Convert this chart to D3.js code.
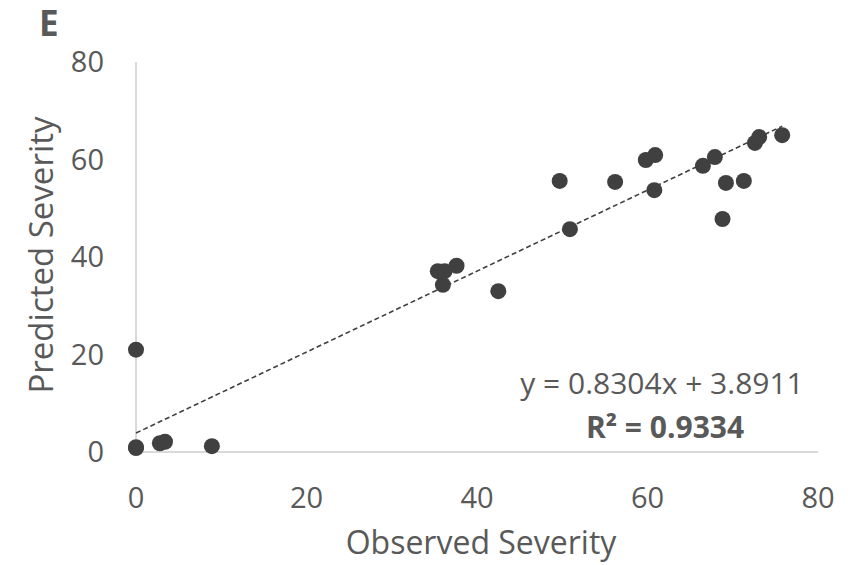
<!DOCTYPE html>
<html>
<head>
<meta charset="utf-8">
<script src="https://cdn.jsdelivr.net/npm/d3@7"></script>
<style>
body{margin:0;background:#fff;}
text{font-family:"Open Sans","Liberation Sans",sans-serif;fill:#595959;}
</style>
</head>
<body>
<div id="chart"></div>
<script>
// observed vs predicted severity
var observed  = [0, 0, 0, 2.8, 3.4, 8.9, 35.4, 36.0, 36.2, 37.6, 42.5, 49.7, 50.9, 56.2, 59.8, 60.9, 60.8, 66.5, 67.9, 68.8, 69.2, 71.3, 72.6, 73.1, 75.8];
var predicted = [21.0, 1.0, 0.8, 1.8, 2.1, 1.2, 37.1, 34.3, 37.1, 38.2, 33.0, 55.6, 45.7, 55.4, 59.9, 60.9, 53.7, 58.7, 60.5, 47.8, 55.2, 55.6, 63.4, 64.6, 65.0];
var ticks = [0, 20, 40, 60, 80];
var slope = 0.8304, intercept = 3.8911;
var eqLabel = "y = 0.8304x + 3.8911";
var r2Label = "R² = 0.9334";

var width = 868, height = 565;

var svg = d3.select("#chart").append("svg")
	.attr("width", width)
	.attr("height", height);

var x = d3.scaleLinear().domain([0, 80]).range([136, 818]);
var y = d3.scaleLinear().domain([0, 80]).range([452, 62]);

// axis lines (no ticks)
svg.append("line")
	.attr("x1", x(0)).attr("y1", y(0))
	.attr("x2", x(80)).attr("y2", y(0))
	.style("stroke", "#d9d9d9").style("stroke-width", "2px");
svg.append("line")
	.attr("x1", x(0)).attr("y1", y(0))
	.attr("x2", x(0)).attr("y2", y(80))
	.style("stroke", "#d9d9d9").style("stroke-width", "2px");

svg.selectAll(".xtick")
	.data(ticks).enter().append("text")
	.attr("class", "xtick")
	.attr("x", function(d){ return x(d); })
	.attr("y", 508)
	.style("text-anchor", "middle")
	.style("font-size", "29px")
	.text(function(d){ return d; });

svg.selectAll(".ytick")
	.data(ticks).enter().append("text")
	.attr("class", "ytick")
	.attr("x", 104)
	.attr("y", function(d){ return y(d) + 10; })
	.style("text-anchor", "end")
	.style("font-size", "29px")
	.text(function(d){ return d; });

svg.append("text")
	.attr("x", 481).attr("y", 554)
	.style("text-anchor", "middle")
	.style("font-size", "32px")
	.text("Observed Severity");

svg.append("text")
	.attr("transform", "translate(53,255) rotate(-90)")
	.style("text-anchor", "middle")
	.style("font-size", "33px")
	.text("Predicted Severity");

svg.append("text")
	.attr("x", 39).attr("y", 36)
	.style("font-size", "35px")
	.style("font-weight", "bold")
	.style("fill", "#595959")
	.text("E");

var data = observed.map(function(v, i){ return {obs: v, pred: predicted[i]}; });

svg.selectAll(".dot")
	.data(data).enter().append("circle")
	.attr("class", "dot")
	.attr("cx", function(d){ return x(d.obs); })
	.attr("cy", function(d){ return y(d.pred); })
	.attr("r", 8)
	.style("fill", "#404040");

// linear trendline over data range
var xMin = d3.min(observed), xMax = d3.max(observed);
svg.append("line")
	.attr("x1", x(xMin)).attr("y1", y(slope * xMin + intercept))
	.attr("x2", x(xMax)).attr("y2", y(slope * xMax + intercept))
	.style("stroke", "#404040")
	.style("stroke-width", "1.6px")
	.style("stroke-dasharray", "5,3");

svg.append("text")
	.attr("x", 662).attr("y", 394)
	.style("text-anchor", "middle")
	.style("font-size", "30px")
	.text(eqLabel);

svg.append("text")
	.attr("x", 665).attr("y", 438)
	.style("text-anchor", "middle")
	.style("font-size", "30px")
	.style("font-weight", "bold")
	.text(r2Label);
</script>
</body>
</html>
